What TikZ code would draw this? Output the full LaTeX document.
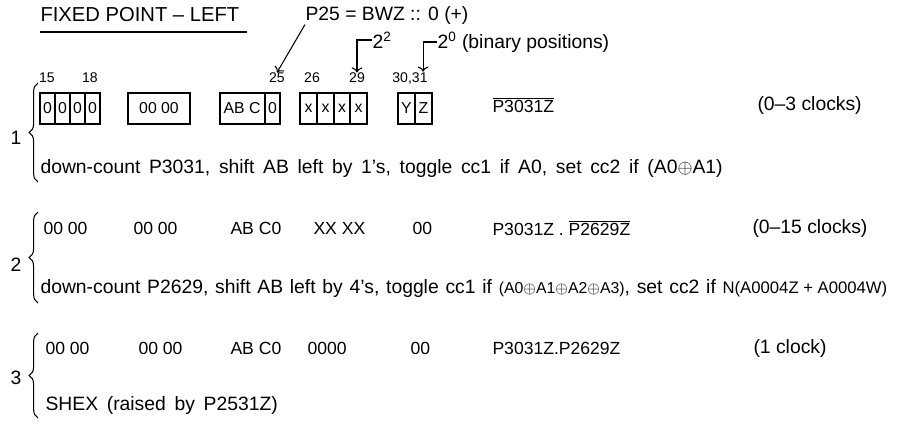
\documentclass[tikz,border=0pt]{standalone}
\usepackage{amsmath}
\usepackage{amssymb}
\usepackage{fontspec}
\setmainfont{Liberation Sans}
\usepackage{tikz}
\usetikzlibrary{arrows.meta}
\usetikzlibrary{decorations.pathreplacing}
\newcommand{\widespace}{\spaceskip=0.45em plus 0.1em\relax}
\newcommand{\narrowspace}{\spaceskip=0.35em plus 0.1em\relax}
\newcommand{\plainspace}{\spaceskip=0pt\relax}

\begin{document}
\begin{tikzpicture}[x=0.02cm,y=-0.02cm,line width=0.6pt,
  txt/.style={inner sep=0pt,anchor=west,font=\fontsize{10}{12}\selectfont},
  big/.style={txt,font=\fontsize{11}{13}\selectfont},
  note/.style={txt,font=\fontsize{11}{13}\selectfont\widespace},
  bit/.style={inner sep=0pt,font=\fontsize{9}{10}\selectfont},
  num/.style={inner sep=0pt,font=\fontsize{8}{10}\selectfont},
  rowbrace/.style={decorate,decoration={brace,amplitude=5pt}}]
\useasboundingbox (0,0) rectangle (907,424);

% Title and notes
\node[txt,font=\fontsize{11.5}{13}\selectfont] (title) at (40,15) {FIXED POINT -- LEFT};
\draw (40,32) -- (247,32);
\node[big] (p25) at (305,15) {P25 = BWZ :: 0 (+)};
\node[big] (pow2) at (372,40) {2\textsuperscript{2}};
\node[big] (pow0) at (437,42) {2\textsuperscript{0} (binary positions)};

% bit numbers
\node[num] (n15) at (47,78) {15};
\node[num] (n18) at (90,78) {18};
\node[num] (n25) at (277,78) {25};
\node[num] (n26) at (312,78) {26};
\node[num] (n29) at (357,78) {29};
\node[num] (n3031) at (410,78) {30,31};

\draw[->] (p25.south west) -- (n25.north);
\draw[->] (pow2.west) -| (n29.north);
\draw[->] (pow0.west) -| ([xshift=-0.1cm]n3031.north east);

% Step 1 registers
\draw (40,93) rectangle (100,124);
\foreach \x in {55,70,85} \draw (\x,93) -- (\x,124);
\foreach \x [count=\i] in {47.5,62.5,77.5,92.5} \node[bit] (a\i) at (\x,108) {0};
\draw (128,93) rectangle (190,124);
\node[bit] (b1) at (159,108) {00 00};
\draw (220,93) rectangle (280,124);
\draw (265,93) -- (265,124);
\node[bit] (c1) at (242,108) {AB C};
\node[bit] (c2) at (272.5,108) {0};
\draw (300,93) rectangle (367,124);
\foreach \x in {317,334,350} \draw (\x,93) -- (\x,124);
\foreach \x [count=\i] in {308.5,325.5,342,358.5} \node[bit] (d\i) at (\x,108) {x};
\draw (398,93) rectangle (432,124);
\draw (415,93) -- (415,124);
\node[bit] (e1) at (406.5,108) {Y};
\node[bit] (e2) at (423.5,108) {Z};
\node[txt] (gate1) at (492,105) {$\overline{\text{P3031Z}}$};
\node[big] (clk1) at (757,105) {(0--3 clocks)};
\node[note] (do1) at (40,168) {down-count P3031, shift AB left by 1's, toggle cc1 if A0, set cc2 if (A0$\oplus$A1)};
\node[big] (row1) at (10,138) {1};
\draw[rowbrace] (38,182) -- (38,83);

% Step 2
\foreach \x/\t [count=\i] in {43/00 00,133/00 00,230/AB C0,313/XX XX,412/00}
  \node[txt] (s2\i) at (\x,228) {\t};
\node[txt] (gate2) at (492,228) {P3031Z . $\overline{\text{P2629Z}}$};
\node[big] (clk2) at (752,228) {(0--15 clocks)};
\node[note,font=\fontsize{11}{13}\selectfont\narrowspace] (do2) at (40,288) {down-count P2629, shift AB left by 4's, toggle cc1 if {\fontsize{9}{10}\selectfont(A0$\oplus$A1$\oplus$A2$\oplus$A3)}, set cc2 if {\fontsize{9.5}{12}\selectfont\plainspace N(A0004Z + A0004W)}};
\node[big] (row2) at (10,265) {2};
\draw[rowbrace] (38,303) -- (38,212);

% Step 3
\foreach \x/\t [count=\i] in {45/00 00,138/00 00,230/AB C0,307/0000,410/00}
  \node[txt] (s3\i) at (\x,348) {\t};
\node[txt] (gate3) at (492,348) {P3031Z.P2629Z};
\node[big] (clk3) at (753,348) {(1 clock)};
\node[note] (do3) at (45,405) {SHEX (raised by P2531Z)};
\node[big] (row3) at (10,378) {3};
\draw[rowbrace] (38,418) -- (38,333);
\end{tikzpicture}
\end{document}
